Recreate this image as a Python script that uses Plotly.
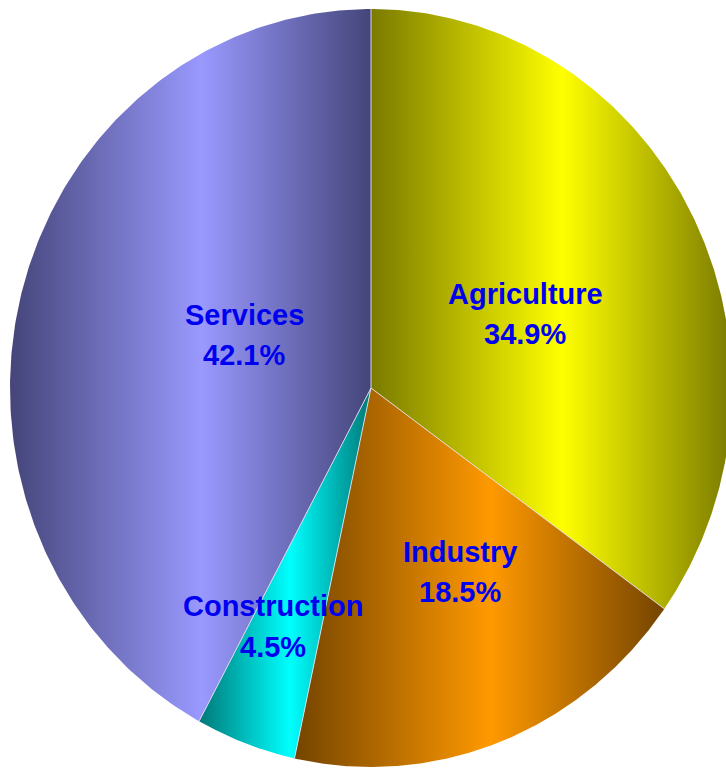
import numpy as np
import plotly.graph_objects as go

# Share of employment by sector (%)
sectors = ["Agriculture", "Industry", "Construction", "Services"]
shares = [34.9, 18.5, 4.5, 42.1]
pct_labels = ["34.9%", "18.5%", "4.5%", "42.1%"]

# Shading: bright centre colour and darker edge colour for each slice
bright = ["#FFFF00", "#FF9900", "#00FFFF", "#9999FF"]
dark = ["#7A7A00", "#744400", "#007878", "#45457A"]

# Pie geometry in page pixels (the pie is slightly taller than wide)
CX, CY = 371.0, 388.0
RX, RY = 361.0, 379.0
W, H = 726, 769

# Label anchor points (pixel coordinates, name line / value line)
label_pos = {
    "Agriculture": (525, 294, 334),
    "Industry": (460, 552, 592),
    "Construction": (273, 606, 647),
    "Services": (244, 315, 355),
}

fig = go.Figure()

total = sum(shares)
start = 0.0
bounds = []
for name, val, b, d in zip(sectors, shares, bright, dark):
    sweep = 360.0 * val / total
    theta = np.radians(np.linspace(start, start + sweep, 240))
    xs = np.concatenate([[CX], CX + RX * np.sin(theta), [CX]])
    ys = np.concatenate([[CY], CY - RY * np.cos(theta), [CY]])
    fig.add_trace(go.Scatter(
        x=xs, y=ys, mode="lines", fill="toself",
        line=dict(width=0, color=d),
        fillgradient=dict(type="horizontal",
                          colorscale=[[0, d], [0.53, b], [1, d]]),
        hoverinfo="text", text=f"{name}: {val}%", showlegend=False,
    ))
    bounds.append(start)
    start += sweep

# Thin light separators between slices
sx, sy = [], []
for a in bounds:
    t = np.radians(a)
    sx += [CX, CX + RX * np.sin(t), None]
    sy += [CY, CY - RY * np.cos(t), None]
fig.add_trace(go.Scatter(x=sx, y=sy, mode="lines",
                         line=dict(color="rgba(225,225,235,0.9)", width=1),
                         hoverinfo="skip", showlegend=False))

font = dict(family="Liberation Sans, Arial, sans-serif", size=29, color="#0000F0")
for name, pct in zip(sectors, pct_labels):
    lx, ly1, ly2 = label_pos[name]
    fig.add_annotation(x=lx, y=ly1, text=f"<b>{name}</b>", showarrow=False,
                       font=font, xanchor="center", yanchor="middle")
    fig.add_annotation(x=lx, y=ly2, text=f"<b>{pct}</b>", showarrow=False,
                       font=font, xanchor="center", yanchor="middle")

fig.update_layout(
    width=W, height=H,
    margin=dict(l=0, r=0, t=0, b=0),
    paper_bgcolor="white", plot_bgcolor="white",
    xaxis=dict(range=[0, W], visible=False, fixedrange=True),
    yaxis=dict(range=[H, 0], visible=False, fixedrange=True),
)

fig.write_html("out.html")
